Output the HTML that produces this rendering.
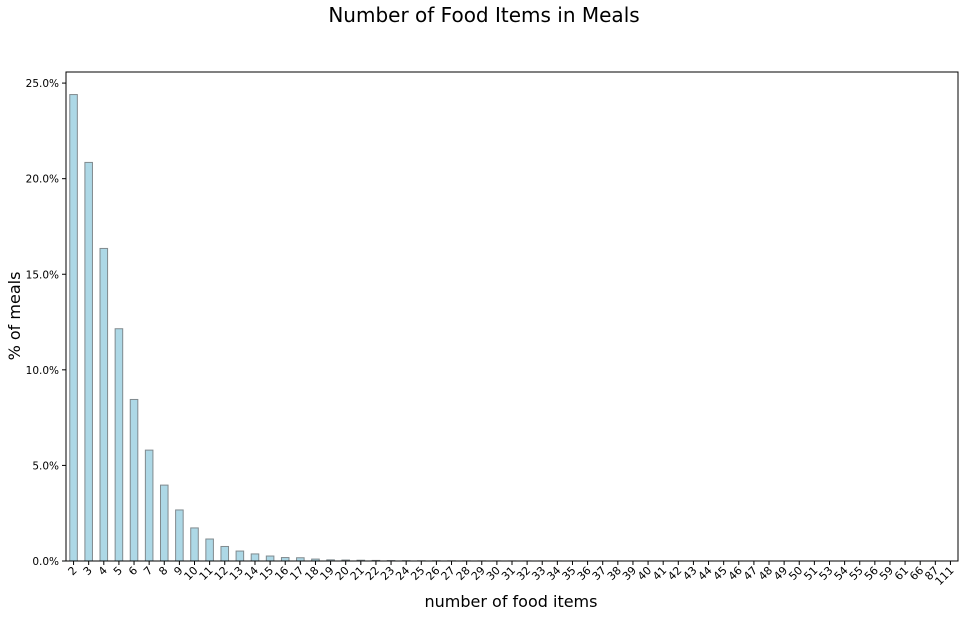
<!DOCTYPE html>
<html><head><meta charset="utf-8"><style>
body{margin:0;background:#fff;font-family:"DejaVu Sans","Liberation Sans",sans-serif}
</style></head><body>
<svg id="chart" width="968" height="616" xmlns="http://www.w3.org/2000/svg">
<text x="484" y="22" text-anchor="middle" font-size="20" font-family="DejaVu Sans, sans-serif">Number of Food Items in Meals</text>
<text x="511" y="607" text-anchor="middle" font-size="16" font-family="DejaVu Sans, sans-serif">number of food items</text>
<text transform="translate(20,316) rotate(-90)" text-anchor="middle" font-size="16" font-family="DejaVu Sans, sans-serif">% of meals</text>
<g id="plot"></g>
</svg>
<script>
const categories=[2,3,4,5,6,7,8,9,10,11,12,13,14,15,16,17,18,19,20,21,22,23,24,25,26,27,28,29,30,31,32,33,34,35,36,37,38,39,40,41,42,43,44,45,46,47,48,49,50,51,53,54,55,56,59,61,66,87,111];
const values=[24.4,20.85,16.35,12.15,8.45,5.8,3.97,2.67,1.73,1.15,0.76,0.52,0.37,0.26,0.18,0.17,0.1,0.06,0.05,0.04,0.03,0.02,0.015,0.01,0.01,0.008,0.006,0.005,0.004,0.003,0.003,0.002,0.002,0.002,0.001,0.001,0.001,0.001,0.001,0.001,0.001,0.001,0.001,0.001,0.001,0.001,0.001,0.001,0.001,0.001,0.001,0.001,0.001,0.001,0.001,0.001,0.001,0.001,0.001];
const yTicks=[0,5,10,15,20,25];
const yTickLabels=["0.0%","5.0%","10.0%","15.0%","20.0%","25.0%"];
const L=66,R=958,T=72,B=561,yMax=25.58;
const NS="http://www.w3.org/2000/svg";
const g=document.getElementById('plot');
const n=categories.length, step=(R-L)/n;
const xs=i=>L+step*(i+0.5);
const ys=v=>B-(v/yMax)*(B-T);
function mk(t,a){const e=document.createElementNS(NS,t);for(const k in a)e.setAttribute(k,a[k]);g.appendChild(e);return e;}
values.forEach((v,i)=>{
  const bw=step*0.5;
  const r=mk('rect',{x:xs(i)-bw/2,y:ys(v),width:bw,height:Math.max(B-ys(v),0),fill:'#add8e6',stroke:'#808a8e','stroke-width':1});
  
  
  const tk=mk('line',{x1:xs(i),x2:xs(i),y1:B,y2:B+4,stroke:'#000'});
  
  
  const tx=mk('text',{x:0,y:0,'font-size':11,'text-anchor':'end',transform:`translate(${xs(i)+4},${B+10}) rotate(-45)`});
  tx.textContent=categories[i];
  
  
});
yTicks.forEach((t,i)=>{
  const tk=mk('line',{x1:L-4,x2:L,y1:ys(t),y2:ys(t),stroke:'#000'});
  
  
  const tx=mk('text',{x:L-7,y:ys(t)+4,'font-size':10.5,'text-anchor':'end'});
  tx.textContent=yTickLabels[i];
  
  
});
const fr=mk('rect',{x:L,y:T,width:R-L,height:B-T,fill:'none',stroke:'#000','stroke-width':1});


</script>
</body></html>
